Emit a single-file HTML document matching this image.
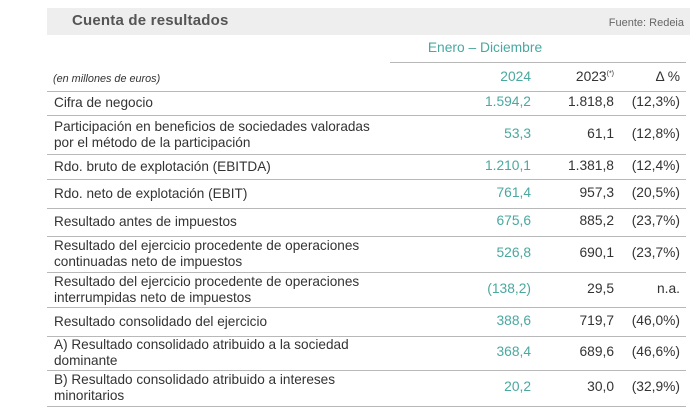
<!DOCTYPE html>
<html><head><meta charset="utf-8"><style>
body{margin:0;width:698px;height:418px;background:#fff;font-family:"Liberation Sans",sans-serif;color:#333;position:relative;overflow:hidden}
.hdr{position:absolute;left:47px;top:8px;width:643px;height:27px;background:#eeeeee}
.title{position:absolute;left:25px;top:4px;font-size:15px;font-weight:bold;color:#555;letter-spacing:0.2px}
.src{position:absolute;right:6px;top:9px;font-size:11px;color:#666}
.ln{position:absolute;left:47px;width:639px;height:1px;background:#b8b8b8}
.t{position:absolute;font-size:13.8px;line-height:16px;white-space:nowrap;transform:scaleX(0.985);transform-origin:left}
.n{position:absolute;font-size:13.8px;text-align:right;width:90px}
.c{color:#4aa8a0}
</style></head><body>
<div class="hdr"><div class="title">Cuenta de resultados</div><div class="src">Fuente: Redeia</div></div>
<div class="n c" style="left:405px;top:40px;width:160px;text-align:center">Enero – Diciembre</div>
<div style="position:absolute;left:390px;top:62px;width:296px;height:1px;background:#b8b8b8"></div>
<div class="t" style="left:53px;top:71px;font-size:11px;font-style:italic">(en millones de euros)</div>
<div class="n c" style="left:441px;top:69px">2024</div>
<div class="n" style="left:524px;top:69px">2023<sup style="font-size:7px">(*)</sup></div>
<div class="n" style="left:590px;top:69px">Δ %</div>
<div id="rows"></div>
<script>
const labels=[["Cifra de negocio"],["Participación en beneficios de sociedades valoradas","por el método de la participación"],["Rdo. bruto de explotación (EBITDA)"],["Rdo. neto de explotación (EBIT)"],["Resultado antes de impuestos"],["Resultado del ejercicio procedente de operaciones","continuadas neto de impuestos"],["Resultado del ejercicio procedente de operaciones","interrumpidas neto de impuestos"],["Resultado consolidado del ejercicio"],["A) Resultado consolidado atribuido a la sociedad","dominante"],["B) Resultado consolidado atribuido a intereses","minoritarios"]];
const v2024=["1.594,2","53,3","1.210,1","761,4","675,6","526,8","(138,2)","388,6","368,4","20,2"];
const v2023=["1.818,8","61,1","1.381,8","957,3","885,2","690,1","29,5","719,7","689,6","30,0"];
const delta=["(12,3%)","(12,8%)","(12,4%)","(20,5%)","(23,7%)","(23,7%)","n.a.","(46,0%)","(46,6%)","(32,9%)"];
const lines=[91,115,154,179,208,236,272,307,336,370,406];
const root=document.body;
lines.forEach((y,i)=>{const d=document.createElement('div');d.className='ln';d.style.top=y+'px';


root.appendChild(d);});
labels.forEach((lab,i)=>{const top=lines[i],bot=lines[i+1],mid=(top+bot)/2;
const l=document.createElement('div');l.className='t';l.style.left='54px';l.style.top=(mid-lab.length*8)+'px';l.innerHTML=lab.join('<br>');


root.appendChild(l);
[[v2024[i],441,'n c'],[v2023[i],524,'n'],[delta[i],590,'n']].forEach(([v,x,c])=>{const e=document.createElement('div');e.className=c;e.style.left=x+'px';e.style.top=(mid-9)+'px';e.textContent=v;


root.appendChild(e);});});
</script>
</body></html>
